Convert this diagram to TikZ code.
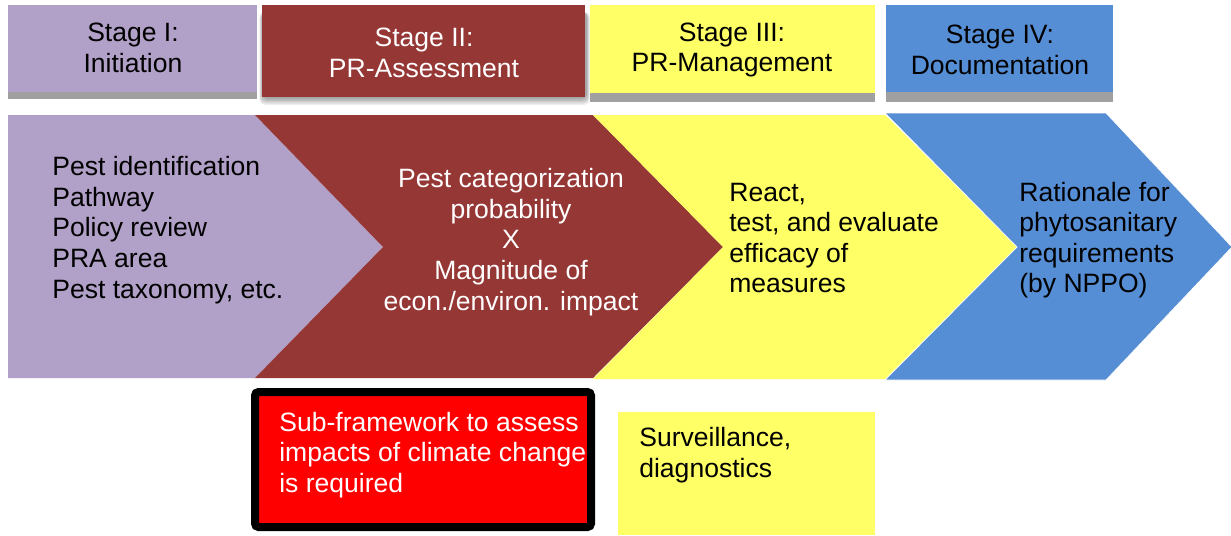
\documentclass[tikz,border=0pt]{standalone}
\usepackage{fontspec}
\setmainfont{Liberation Sans}

\definecolor{initpurple}{HTML}{B1A0C7}
\definecolor{assessred}{HTML}{953735}
\definecolor{manageyellow}{HTML}{FFFF66}
\definecolor{docblue}{HTML}{558ED5}
\definecolor{stripgray}{HTML}{A0A0A0}

\begin{document}
\begin{tikzpicture}[x=0.02cm,y=-0.02cm,
  txt/.style={inner sep=0pt,font=\fontsize{15.1}{17.4}\selectfont}]
\useasboundingbox (0,0) rectangle (1231,535);

% stage headers
\fill[stripgray] (8,85) rectangle (257,99);
\fill[initpurple] (8,5) rectangle (257,92);
\foreach \s in {1,...,6}
  \fill[black,opacity=0.07,rounded corners=3] (263-\s*0.6,12) rectangle (586+\s*0.6,97+\s*1.3);
\fill[assessred] (262,5) rectangle (585,97);
\fill[stripgray] (590,85) rectangle (875,102);
\fill[manageyellow] (590,5) rectangle (875,93);
\fill[stripgray] (886,85) rectangle (1113,102);
\fill[docblue] (886,5) rectangle (1113,92);

\node[txt,align=center](h1) at (133,48) {Stage I:\\Initiation};
\node[txt,align=center,text=white](h2) at (424,53) {Stage II:\\PR-Assessment};
\node[txt,align=center](h3) at (732,50) {Stage III:\\PR-Management};
\node[txt,align=center](h4) at (1000,50) {Stage IV:\\Documentation};

% chevrons
\fill[initpurple] (8,115) -- (255,115) -- (383,247) -- (255,378) -- (8,378) -- cycle;
\fill[assessred] (255,115) -- (593,115) -- (723,247) -- (593,378) -- (255,378) -- (383,247) -- cycle;
\fill[manageyellow] (593,115) -- (885,115) -- (1017,247) -- (885,379) -- (593,379) -- (723,247) -- cycle;
\filldraw[fill=docblue,draw=white,line width=0.4pt] (885,113) -- (1106,113) -- (1232,247) -- (1106,380) -- (885,380) -- (1017,247) -- cycle;

\node[txt,align=left,anchor=west](c1) at (52,230) {Pest identification\\Pathway\\Policy review\\PRA area\\Pest taxonomy, etc.};
\node[txt,align=center,text=white](c2) at (511,242) {Pest categorization\\probability\\X\\Magnitude of\\econ./environ. impact};
\node[txt,align=left,anchor=west](c3) at (729,238) {React,\\test, and evaluate\\efficacy of\\measures};
\node[txt,align=left,anchor=west](c4) at (1019,240) {Rationale for\\phytosanitary\\requirements\\(by NPPO)};

% boxes below
\filldraw[fill=red,draw=black,line width=0.16cm,rounded corners=2] (255,392) rectangle (591,527);
\node[txt,align=left,anchor=west,text=white](b1) at (279,455) {Sub-framework to assess\\impacts of climate change\\is required};
\fill[manageyellow] (618,412) rectangle (875,535);
\node[txt,align=left,anchor=west](b2) at (639,455) {Surveillance,\\diagnostics};
\end{tikzpicture}
\end{document}
